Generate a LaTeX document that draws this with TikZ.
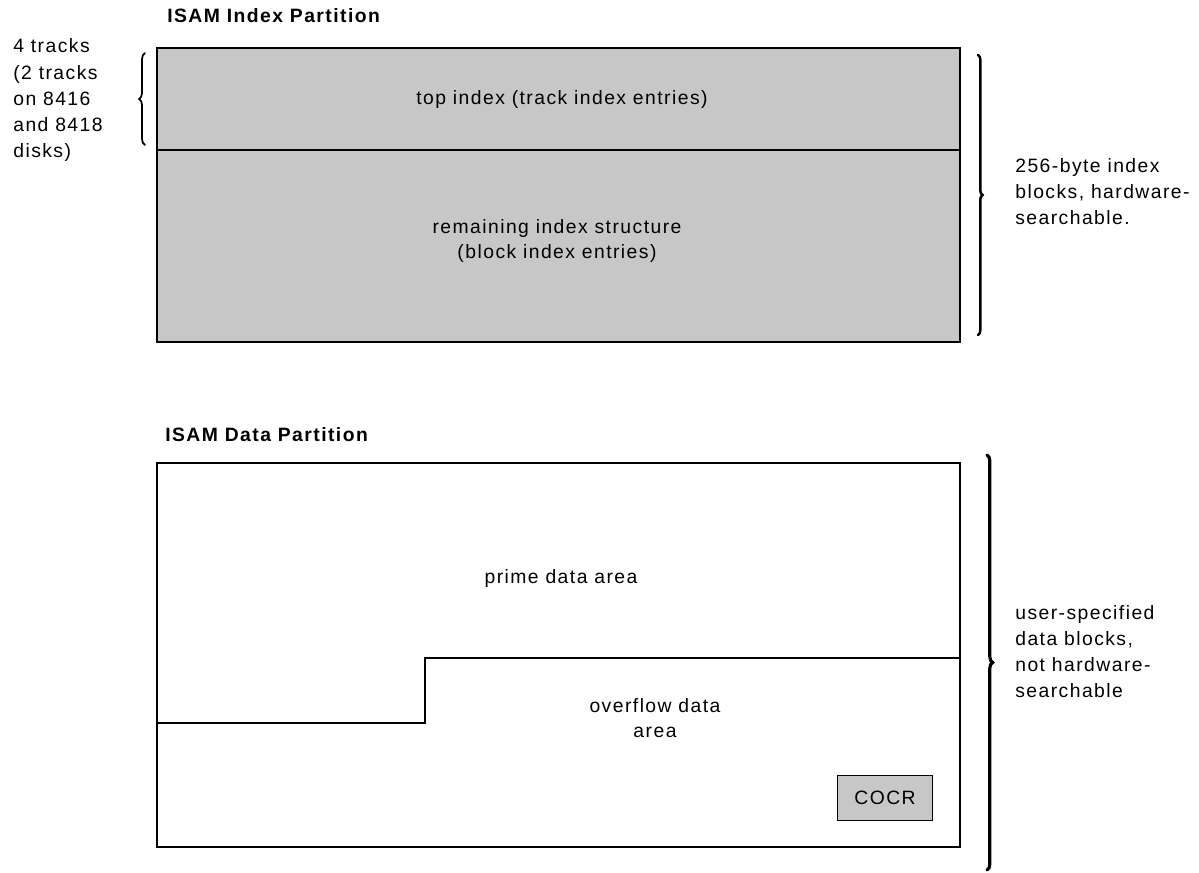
\documentclass[tikz,border=0pt]{standalone}
\usepackage{fontspec}
\setmainfont{Liberation Sans}[LetterSpace=7.5]
\usetikzlibrary{decorations.pathreplacing}
\begin{document}
\begin{tikzpicture}[x=0.02cm,y=-0.02cm,
  lbl/.style={font=\fontsize{11}{14.8}\selectfont, align=left, inner sep=0, anchor=west},
  ctr/.style={font=\fontsize{11}{14.4}\selectfont, align=center, inner sep=0},
  ttl/.style={font=\fontsize{11}{14}\selectfont\bfseries, anchor=west, inner sep=0},
  part/.style={draw, line width=1.3pt},
  shaded/.style={fill=black!22},
  brc/.style={decorate, decoration={brace, amplitude=#1}, line width=1.4pt, line cap=round}]
\useasboundingbox (0,0) rectangle (1199,872);

% ---- index partition ----
\node[ttl] (ititle) at (167,16) {ISAM Index Partition};
\draw[part, shaded] (157,48) rectangle (960,342);
\draw[part] (157,150) coordinate (divl) -- (960,150) coordinate (divr);
\node[ctr] (topidx) at (562,100) {top index (track index entries)};
\node[ctr] (remidx) at (557,241) {remaining index structure\\(block index entries)};

\coordinate (lbA) at (145,145);
\coordinate (lbB) at (145,53);
\draw[brc=3.4pt, line width=1pt] (lbA) -- (lbB);
\node[lbl] (tracks) at (13,100) {4 tracks\\(2 tracks\\on 8416\\and 8418\\disks)};

\coordinate (rbA) at (978,55);
\coordinate (rbB) at (978,335);
\draw[brc=2.6pt] (rbA) -- (rbB);
\node[lbl] (idxblk) at (1015,192) {256-byte index\\blocks, hardware-\\searchable.};

% ---- data partition ----
\node[ttl] (dtitle) at (165,435) {ISAM Data Partition};
\draw[part, line width=1.1pt] (157,463) rectangle (960,847);
\coordinate (s1) at (157,723);
\coordinate (s2) at (425,723);
\coordinate (s3) at (425,658);
\coordinate (s4) at (960,658);
\draw[line width=1.1pt] (s1) -- (s2) -- (s3) -- (s4);
\node[ctr] (prime) at (561,578) {prime data area};
\node[ctr] (ovfl) at (655,718) {overflow data\\area};
\node[draw, line width=1.1pt, shaded, minimum width=95*0.02cm, minimum height=45*0.02cm,
      font=\fontsize{11}{14}\selectfont] (cocr) at (885,798) {COCR};

\coordinate (dbA) at (987,455);
\coordinate (dbB) at (987,870);
\draw[brc=3.2pt, line width=1.8pt] (dbA) -- (dbB);
\node[lbl] (datblk) at (1015,652) {user-specified\\data blocks,\\not hardware-\\searchable};
\end{tikzpicture}
\end{document}
